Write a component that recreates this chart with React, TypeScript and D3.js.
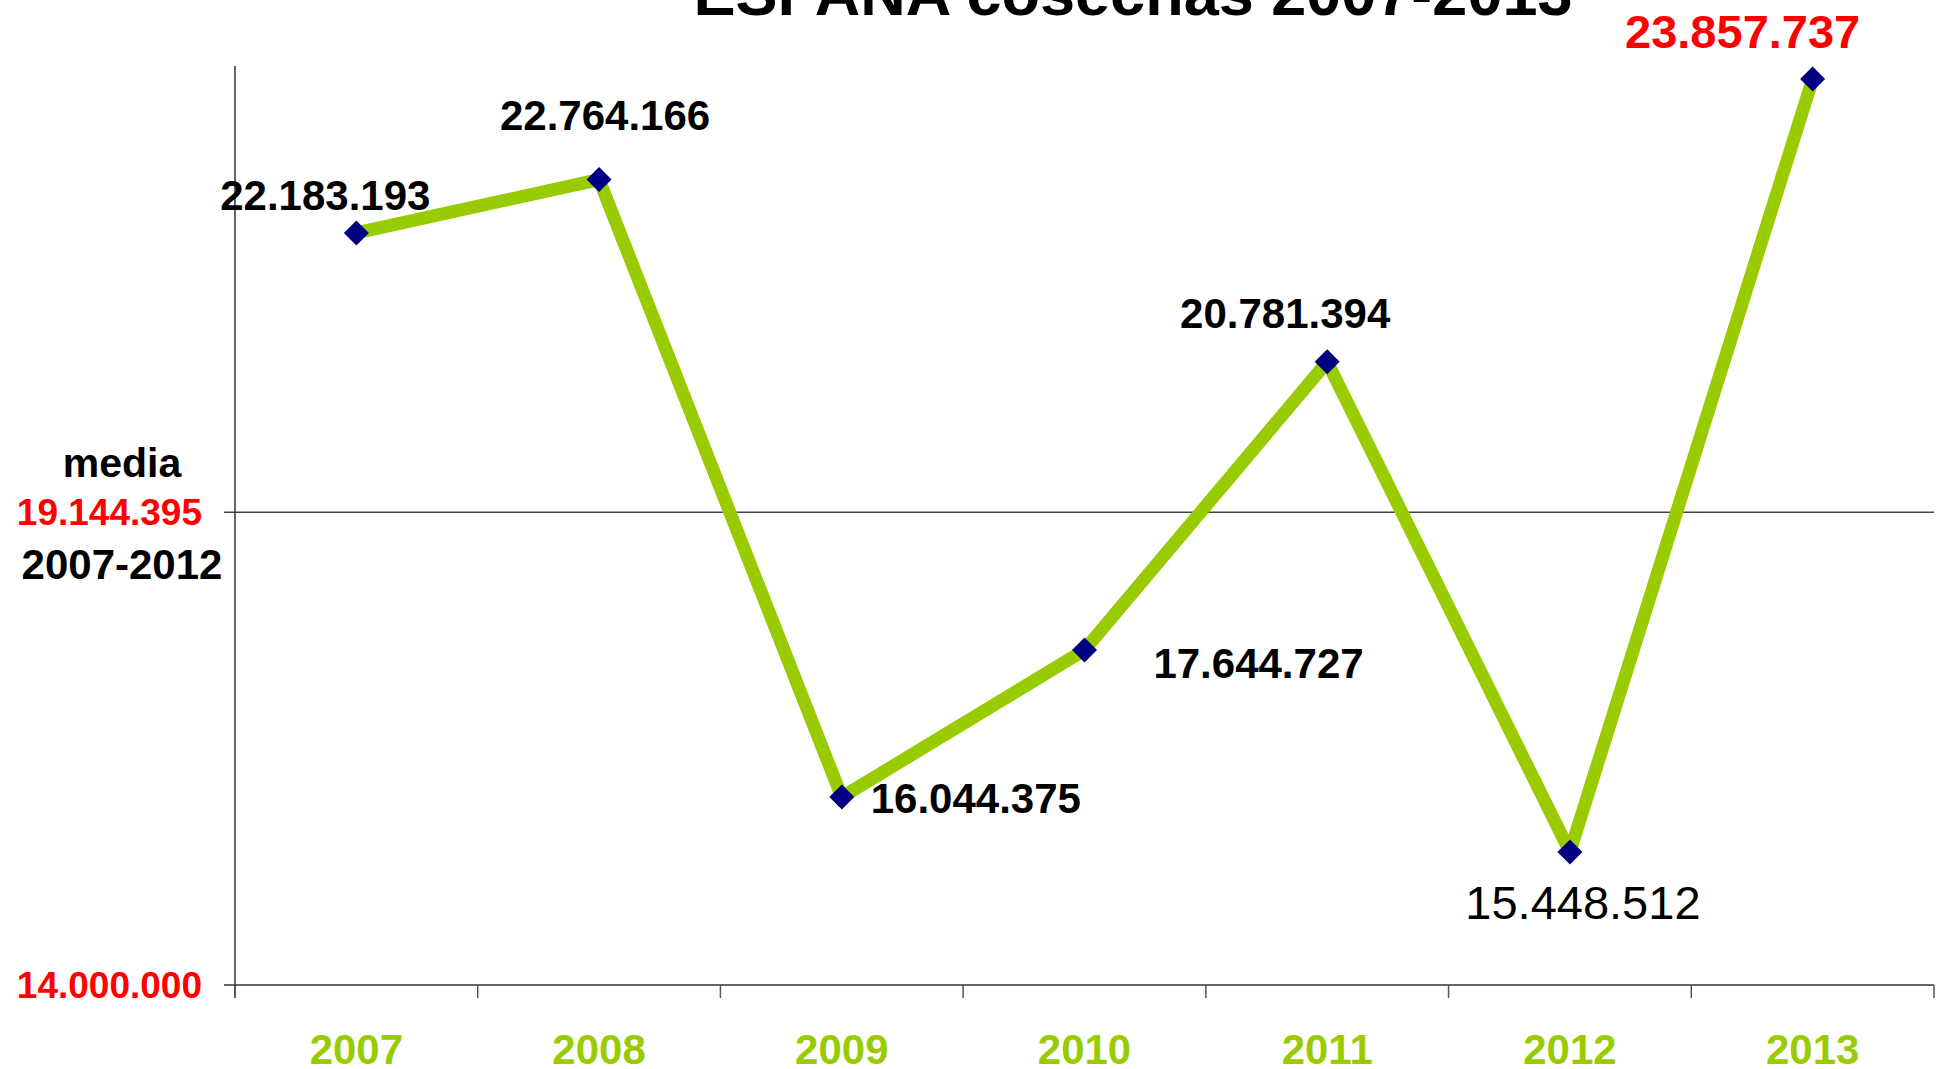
import React, { useEffect } from "react";
import * as d3 from "d3";

// ---- data ----
const years = ["2007", "2008", "2009", "2010", "2011", "2012", "2013"];
const harvest = [22183193, 22764166, 16044375, 17644727, 20781394, 15448512, 23857737];
const meanValue = 19144395; // media 2007-2012
const yMin = 14000000;
const yMax = 24000000;
const titleText = "ESPAÑA cosechas 2007-2013";
const meanLabelTop = "media";
const meanLabelBottom = "2007-2012";

// ---- layout (label placement relative to marker) ----
const labelOffsets = [
  { dx: -31, dy: -23, weight: "bold", color: "#000", size: 42 },
  { dx: 6, dy: -50, weight: "bold", color: "#000", size: 42 },
  { dx: 134, dy: 16, weight: "bold", color: "#000", size: 42 },
  { dx: 174, dy: 28, weight: "bold", color: "#000", size: 42 },
  { dx: -42, dy: -34, weight: "bold", color: "#000", size: 42 },
  { dx: 13, dy: 67, weight: "normal", color: "#000", size: 47 },
  { dx: -70, dy: -31, weight: "bold", color: "#FF0000", size: 47 },
];

const W = 1942;
const H = 1069;
const left = 235;
const right = 1934;
const top = 66;
const bottom = 985;

const locale = d3.formatLocale({ decimal: ",", thousands: ".", grouping: [3], currency: ["", "€"] });
const fmt = locale.format(",d");

const FONT = "'Liberation Sans', Arial, Helvetica, sans-serif";
const GREEN = "#99CC00";
const NAVY = "#000080";

export default function App() {
  useEffect(() => {
    document.body.style.margin = "0";
    document.body.style.overflow = "hidden";
  }, []);

  const x = d3.scaleBand<string>().domain(years).range([left, right]).paddingInner(0).paddingOuter(0);
  const y = d3.scaleLinear().domain([yMin, yMax]).range([bottom, top]);
  const cx = (d: string) => (x(d) as number) + x.bandwidth() / 2;

  const pts = years.map((yr, i) => [cx(yr), y(harvest[i])] as [number, number]);
  const line = d3.line()(pts) as string;
  const diamond = d3.symbol().type(d3.symbolSquare).size(2 * 12.5 * 12.5)() as string;

  const boundaries = years.map((yr) => x(yr) as number).concat([right]);
  const yMean = y(meanValue);

  return (
    <svg width={W} height={H} style={{ display: "block", background: "#fff" }} fontFamily={FONT}>
      <rect x={0} y={0} width={W} height={H} fill="#fff" />
      {/* title */}
      <text x={1133} y={15} textAnchor="middle" fontSize={63} fontWeight="bold" fill="#000">
        {titleText}
      </text>

      {/* mean line */}
      <line x1={left - 11} x2={right} y1={yMean} y2={yMean} stroke="#444" strokeWidth={1.5} />

      {/* axes */}
      <line x1={left} x2={left} y1={top} y2={bottom + 13} stroke="#333" strokeWidth={1.5} />
      <line x1={left - 11} x2={right} y1={bottom} y2={bottom} stroke="#333" strokeWidth={1.5} />
      {boundaries.map((b, i) => (
        <line key={i} x1={b} x2={b} y1={bottom} y2={bottom + 13} stroke="#555" strokeWidth={1.5} />
      ))}

      {/* y labels */}
      <text x={202} y={y(yMin) + 13} textAnchor="end" fontSize={37} fontWeight="bold" fill="#FF0000">
        {fmt(yMin)}
      </text>
      <text x={202} y={yMean + 13} textAnchor="end" fontSize={37} fontWeight="bold" fill="#FF0000">
        {fmt(meanValue)}
      </text>
      <text x={122} y={477} textAnchor="middle" fontSize={41} fontWeight="bold" fill="#000">
        {meanLabelTop}
      </text>
      <text x={122} y={579} textAnchor="middle" fontSize={42} fontWeight="bold" fill="#000">
        {meanLabelBottom}
      </text>

      {/* x labels */}
      {years.map((yr) => (
        <text key={yr} x={cx(yr)} y={1064} textAnchor="middle" fontSize={42} fontWeight="bold" fill={GREEN}>
          {yr}
        </text>
      ))}

      {/* series line */}
      <path d={line} fill="none" stroke={GREEN} strokeWidth={13} strokeLinejoin="miter" strokeMiterlimit={2} />

      {/* markers */}
      {pts.map((p, i) => (
        <path key={i} d={diamond} transform={`translate(${p[0]},${p[1]}) rotate(45)`} fill={NAVY} />
      ))}

      {/* data labels */}
      {pts.map((p, i) => {
        const o = labelOffsets[i];
        return (
          <text
            key={i}
            x={p[0] + o.dx}
            y={p[1] + o.dy}
            textAnchor="middle"
            fontSize={o.size}
            fontWeight={o.weight}
            fill={o.color}
          >
            {fmt(harvest[i])}
          </text>
        );
      })}
    </svg>
  );
}
